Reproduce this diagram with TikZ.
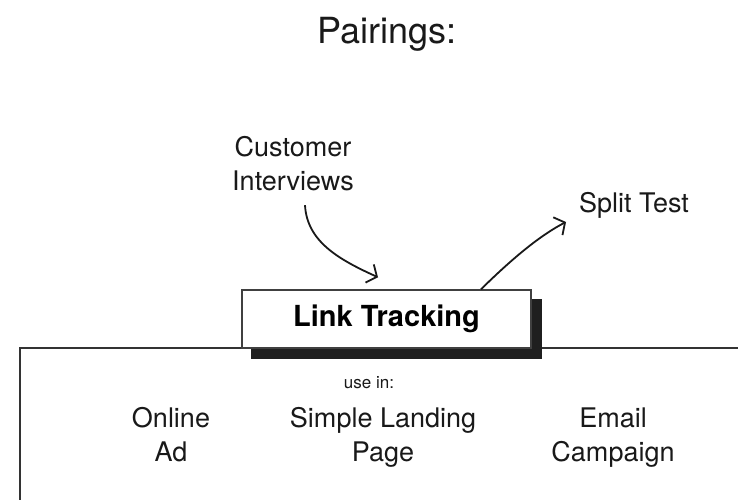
\documentclass[tikz,border=0pt]{standalone}
\usepackage{fontspec}
\setmainfont{TeX Gyre Heros}
\usetikzlibrary{arrows.meta}
\tikzset{
  lbl/.style={inner sep=0pt, align=center, text=black!90},
  big/.style={lbl, font=\fontsize{27}{34}\selectfont},
  conn/.style={line width=1.8pt, black!90, -{Straight Barb[length=8pt,width=20pt,line width=1.8pt]}},
  panel/.style={line width=2pt, black!80},
}
\begin{document}
\begin{tikzpicture}[x=1pt,y=-1pt]
\useasboundingbox (0,0) rectangle (738,500);
\fill[white] (0,0) rectangle (738,500);
% title
\node[lbl, font=\fontsize{36}{40}\selectfont, anchor=base] (title) at (387,44) {Pairings:};
% labels
\node[big] (cust) at (293,167) {Customer\strut\\Interviews\strut};
\node[big, anchor=base] (split) at (634,212) {Split Test};
% panel
\draw[panel] (20,500) -- (20,348) -- (738,348);
% box
\node[draw=black!75, line width=1.5pt, fill=white, minimum width=289pt, minimum height=58pt, inner sep=0pt] (lt) at (386.5,319) {};
\fill[black!88] ([shift={(10,10)}]lt.north west) rectangle ([shift={(10,10)}]lt.south east);
\node[draw=black!75, line width=1.5pt, fill=white, minimum width=289pt, minimum height=58pt, inner sep=0pt, font=\bfseries\fontsize{29}{32}\selectfont] (ltb) at (386.5,319) {Link Tracking};
% connectors
\draw[conn] ([shift={(12,4)}]cust.south) .. controls ([shift={(14,40)}]cust.south) and ([shift={(45,58)}]cust.south) .. ([shift={(-8.5,-12)}]ltb.north);
\draw[conn] ([shift={(94.5,0)}]ltb.north) .. controls ([shift={(120,-25)}]ltb.north) and ([shift={(150,-52)}]ltb.north) .. ([shift={(-68,10)}]split.base);
% bottom text
\node[lbl, font=\fontsize{17}{20}\selectfont, anchor=base] (usein) at (369,388) {use in:};
\node[big] (ad) at (171,438) {Online\strut\\Ad\strut};
\node[big] (lp) at (383,438) {Simple Landing\strut\\Page\strut};
\node[big] (email) at (613,438) {Email\strut\\Campaign\strut};
\end{tikzpicture}
\end{document}
